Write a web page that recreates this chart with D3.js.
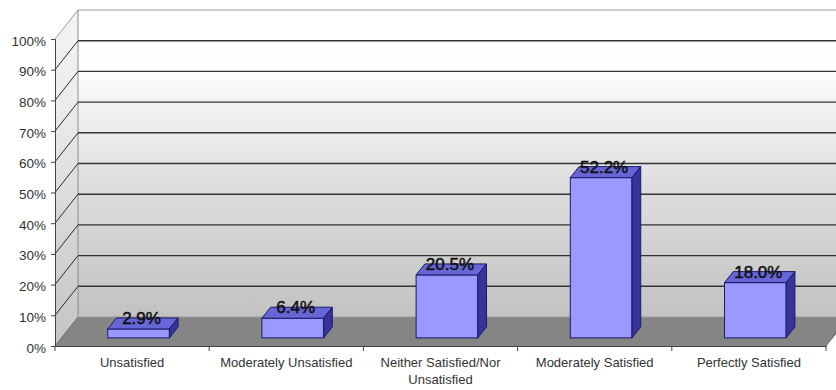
<!DOCTYPE html>
<html>
<head>
<meta charset="utf-8">
<script src="https://cdn.jsdelivr.net/npm/d3@7"></script>
<style>
  html, body { margin: 0; padding: 0; background: #fff; }
  svg { display: block; font-family: Arial, "Liberation Sans", sans-serif; }
</style>
</head>
<body>
<svg id="chart" width="836" height="390"></svg>
<script>
// Survey results: satisfaction level (percent of respondents)
const categories = [
  ["Unsatisfied"],
  ["Moderately Unsatisfied"],
  ["Neither Satisfied/Nor", "Unsatisfied"],
  ["Moderately Satisfied"],
  ["Perfectly Satisfied"]
];
const values = [2.9, 6.4, 20.5, 52.2, 18.0];
const yTicks = [0, 10, 20, 30, 40, 50, 60, 70, 80, 90, 100];
const valueLabels = ["2.9%", "6.4%", "20.5%", "52.2%", "18.0%"];

const svg = d3.select("#chart");
const W = 836, H = 390;

// front plane of the 3D box
const x0 = 55, x1 = 826, yBase = 346, yTop = 39;
// depth of the box (full depth offset)
const DX = 23, DY = -29;
const depth = t => [DX * t, DY * t];

const x = d3.scaleBand().domain(d3.range(categories.length)).range([x0, x1]).padding(0);
const y = d3.scaleLinear().domain([0, 100]).range([yBase, yTop]);

const defs = svg.append("defs");
const gWall = defs.append("linearGradient").attr("id", "wallGrad")
  .attr("gradientUnits", "userSpaceOnUse").attr("x1", 0).attr("x2", 0)
  .attr("y1", yTop + DY).attr("y2", yBase + DY);
[[0, "#ffffff"], [0.2, "#fefefe"], [0.3, "#f3f3f3"], [0.55, "#e0e0e0"], [0.8, "#cfcfcf"], [1, "#c2c2c2"]]
  .forEach(([o, c]) => gWall.append("stop").attr("offset", o).attr("stop-color", c));
const gSide = defs.append("linearGradient").attr("id", "sideGrad")
  .attr("gradientUnits", "userSpaceOnUse").attr("x1", 0).attr("x2", 0)
  .attr("y1", yTop + DY).attr("y2", yBase);
[[0, "#f4f4f4"], [0.3, "#ebebeb"], [0.6, "#d9d9d9"], [1, "#c4c4c4"]]
  .forEach(([o, c]) => gSide.append("stop").attr("offset", o).attr("stop-color", c));

const pts = a => a.map(p => p.join(",")).join(" ");

// back wall
svg.append("rect")
  .attr("x", x0 + DX).attr("y", y(100) + DY)
  .attr("width", W - (x0 + DX)).attr("height", y(0) - y(100))
  .attr("fill", "url(#wallGrad)");

// side wall
svg.append("polygon")
  .attr("points", pts([[x0, y(100)], [x0 + DX, y(100) + DY], [x0 + DX, y(0) + DY], [x0, y(0)]]))
  .attr("fill", "url(#sideGrad)");

// floor
svg.append("polygon")
  .attr("points", pts([[x0, y(0)], [x0 + DX, y(0) + DY], [x1 + DX, y(0) + DY], [x1, y(0)]]))
  .attr("fill", "#858585");

// wall outlines
svg.append("line").attr("x1", x0 + DX).attr("x2", W).attr("y1", y(100) + DY).attr("y2", y(100) + DY)
  .attr("stroke", "#a0a0a0").attr("stroke-width", 1);
svg.append("line").attr("x1", x0 + DX).attr("x2", x0 + DX).attr("y1", y(100) + DY).attr("y2", y(0) + DY)
  .attr("stroke", "#8c8c8c").attr("stroke-width", 1);
svg.append("line").attr("x1", x0).attr("x2", x0 + DX).attr("y1", y(100)).attr("y2", y(100) + DY)
  .attr("stroke", "#9a9a9a").attr("stroke-width", 1);

// gridlines on back wall and side wall
const grid = yTicks.filter(t => t > 0 && t < 100);
svg.append("g").selectAll("line").data(grid).join("line")
  .attr("x1", x0 + DX).attr("x2", W)
  .attr("y1", d => y(d) + DY).attr("y2", d => y(d) + DY)
  .attr("stroke", "#333").attr("stroke-width", 1.4);
svg.append("g").selectAll("line").data(grid).join("line")
  .attr("x1", x0).attr("x2", x0 + DX)
  .attr("y1", d => y(d)).attr("y2", d => y(d) + DY)
  .attr("stroke", "#2a2a2a").attr("stroke-width", 1);
// floor/back wall seam
svg.append("line").attr("x1", x0 + DX).attr("x2", W).attr("y1", y(0) + DY).attr("y2", y(0) + DY)
  .attr("stroke", "#9a9a9a").attr("stroke-width", 1);
svg.append("line").attr("x1", x0).attr("x2", x0 + DX).attr("y1", y(0)).attr("y2", y(0) + DY)
  .attr("stroke", "#6a6a6a").attr("stroke-width", 1);
svg.append("line").attr("x1", x1).attr("x2", x1 + DX).attr("y1", y(0)).attr("y2", y(0) + DY)
  .attr("stroke", "#6a6a6a").attr("stroke-width", 1);

// value axis
const yAxis = d3.axisLeft(y).tickValues(yTicks).tickFormat(d => d + "%").tickSize(4).tickPadding(5);
const gy = svg.append("g").attr("transform", `translate(${x0},0)`).call(yAxis);
gy.select(".domain").attr("stroke", "#444");
gy.selectAll(".tick line").attr("stroke", "#444");
gy.selectAll(".tick text").attr("font-size", 13.5).attr("fill", "#333")
  .attr("font-family", "Arial, 'Liberation Sans', sans-serif").attr("dy", "0.45em");

// category axis
const xAxis = d3.axisBottom(x).tickSize(0).tickFormat(() => "");
const gx = svg.append("g").attr("transform", `translate(0,${yBase})`).call(xAxis);
gx.select(".domain").attr("stroke", "#444");
gx.selectAll(".tick").remove();
const bounds = d3.range(categories.length + 1).map(i => x0 + i * x.step());
gx.selectAll("line.sep").data(bounds).join("line").attr("class", "sep")
  .attr("x1", d => d).attr("x2", d => d).attr("y1", 0).attr("y2", 5)
  .attr("stroke", "#444");
const labels = svg.append("g").selectAll("text").data(categories).join("text")
  .attr("x", (d, i) => x(i) + x.bandwidth() / 2)
  .attr("y", 367)
  .attr("text-anchor", "middle").attr("font-size", 13).attr("fill", "#333");
labels.selectAll("tspan").data(d => d).join("tspan")
  .attr("x", function () { return d3.select(this.parentNode).attr("x"); })
  .attr("dy", (d, j) => j === 0 ? 0 : 17)
  .text(d => d);

// 3D columns
const f0 = 0.28, f1 = 0.66;           // front / back depth of the columns
const barW = x.bandwidth() * 0.4;
const [fx, fy] = depth(f0);
const [bx, by] = depth(f1);
const ddx = bx - fx, ddy = by - fy;
const bars = svg.append("g").selectAll("g").data(values).join("g");
const left = (d, i) => x(i) + x.bandwidth() / 2 - barW / 2 + fx;
bars.append("rect")
  .attr("x", left).attr("y", d => y(d) + fy)
  .attr("width", barW).attr("height", d => y(0) - y(d))
  .attr("fill", "#9999ff").attr("stroke", "#1a1a66").attr("stroke-width", 1);
bars.append("polygon")
  .attr("points", (d, i) => {
    const l = left(d, i), r = l + barW, t = y(d) + fy;
    return pts([[l, t], [r, t], [r + ddx, t + ddy], [l + ddx, t + ddy]]);
  })
  .attr("fill", "#6666d6").attr("stroke", "#1a1a66").attr("stroke-width", 1).attr("stroke-linejoin", "round");
bars.append("polygon")
  .attr("points", (d, i) => {
    const r = left(d, i) + barW, t = y(d) + fy, b = y(0) + fy;
    return pts([[r, t], [r + ddx, t + ddy], [r + ddx, b + ddy], [r, b]]);
  })
  .attr("fill", "#34349a").attr("stroke", "#1a1a66").attr("stroke-width", 1).attr("stroke-linejoin", "round");

// value labels
svg.append("g").selectAll("text").data(values).join("text")
  .attr("x", (d, i) => x(i) + x.bandwidth() / 2 + fx + 3)
  .attr("y", d => y(d) + fy - 5)
  .attr("text-anchor", "middle").attr("font-size", 17).attr("fill", "#111")
  .attr("stroke", "#111").attr("stroke-width", 0.5)
  .text((d, i) => valueLabels[i]);
</script>
</body>
</html>
